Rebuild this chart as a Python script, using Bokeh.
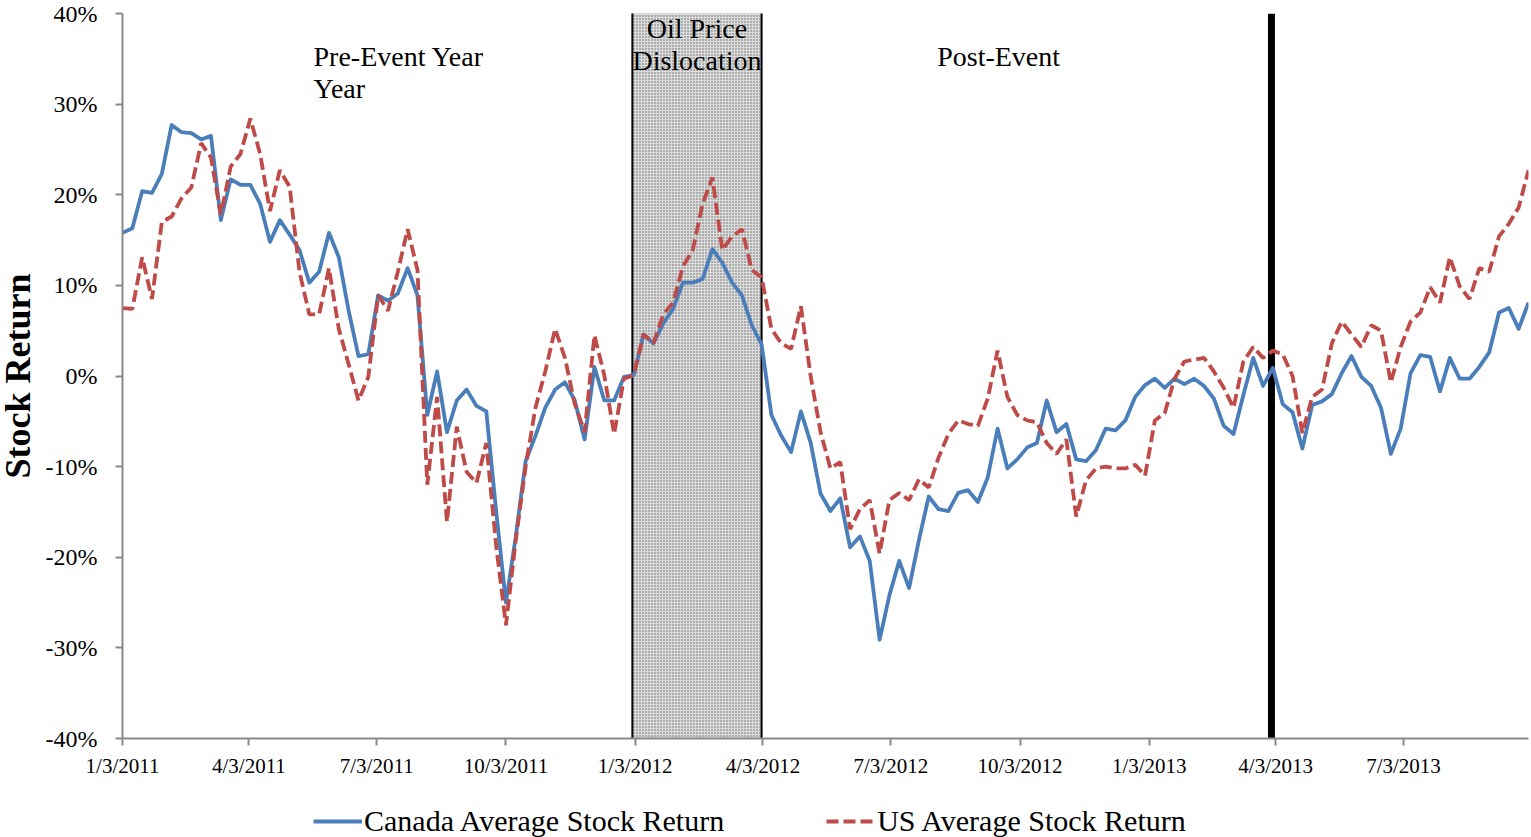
import pandas as pd
from bokeh.plotting import figure
from bokeh.layouts import column
from bokeh.models import (FixedTicker, PrintfTickFormatter, Legend, LegendItem,
                          Label, Span, Range1d)
from bokeh.embed import file_html
from bokeh.resources import INLINE

# ---------------- data ----------------
weeks = pd.date_range("2011-01-03", periods=144, freq="7D")

canada = [
    15.8, 16.3, 20.4, 20.2, 22.3, 27.7, 26.9, 26.8, 26.1, 26.5,
    17.2, 21.7, 21.1, 21.1, 19.0, 14.8, 17.2, 15.6, 13.9, 10.3,
    11.5, 15.8, 13.1, 7.2, 2.2, 2.4, 8.9, 8.3, 9.1, 11.9,
    8.9, -4.3, 0.5, -6.2, -2.7, -1.5, -3.3, -3.9, -14.9, -25.0,
    -17.7, -9.4, -6.6, -3.5, -1.5, -0.7, -2.7, -7.0, 1.0, -2.7,
    -2.7, -0.1, 0.1, 4.6, 3.6, 5.8, 7.4, 10.3, 10.3, 10.7,
    14.0, 12.5, 10.3, 8.9, 5.6, 3.5, -4.3, -6.6, -8.4, -3.9,
    -7.4, -13.0, -14.9, -13.5, -18.9, -17.7, -20.4, -29.1, -24.2, -20.4,
    -23.4, -18.1, -13.3, -14.7, -14.9, -12.9, -12.6, -13.9, -11.2, -5.8,
    -10.2, -9.2, -7.9, -7.4, -2.7, -6.2, -5.3, -9.2, -9.4, -8.2,
    -5.8, -6.0, -4.9, -2.3, -1.0, -0.3, -1.3, -0.3, -0.9, -0.3,
    -1.1, -2.5, -5.5, -6.4, -2.1, 2.0, -1.1, 0.9, -3.1, -4.0,
    -8.0, -3.2, -2.8, -2.0, 0.3, 2.2, -0.1, -1.1, -3.5, -8.6,
    -5.8, 0.3, 2.3, 2.1, -1.7, 2.0, -0.3, -0.3, 1.0, 2.6,
    7.0, 7.5, 5.2, 8.1,
]

us = [
    7.5, 7.4, 13.1, 8.5, 17.0, 17.6, 19.6, 20.8, 25.7, 24.1,
    17.8, 23.1, 24.5, 28.4, 24.5, 18.2, 22.7, 20.9, 11.5, 6.8,
    6.8, 11.9, 5.2, 1.3, -2.7, -0.1, 8.9, 7.2, 11.5, 16.2,
    11.7, -12.0, -2.3, -16.1, -5.6, -10.6, -11.8, -7.4, -18.7, -27.5,
    -18.1, -10.0, -3.5, 0.5, 5.2, 2.0, -3.1, -6.2, 4.5, 0.1,
    -6.4, -0.3, 0.1, 4.6, 3.6, 6.8, 8.1, 12.1, 13.9, 19.0,
    21.9, 13.9, 15.4, 16.2, 11.7, 10.9, 5.2, 3.6, 3.0, 7.7,
    -0.1, -6.2, -10.2, -9.5, -16.9, -14.7, -13.7, -19.6, -13.7, -12.9,
    -13.7, -11.4, -12.3, -9.0, -6.4, -4.9, -5.3, -5.5, -2.5, 2.8,
    -2.3, -4.3, -4.9, -5.1, -7.4, -8.6, -7.0, -15.5, -11.5, -10.2,
    -10.0, -10.2, -10.2, -9.8, -11.0, -4.9, -4.1, -0.3, 1.6, 1.8,
    2.0, 0.5, -1.3, -3.5, 1.6, 3.2, 2.0, 2.8, 2.4, 0.0,
    -6.3, -2.3, -1.5, 3.6, 6.0, 4.6, 3.2, 5.6, 5.0, -0.7,
    3.2, 6.0, 7.0, 9.8, 8.1, 13.1, 9.9, 8.5, 11.9, 11.5,
    15.4, 16.8, 18.6, 22.7,
]

tick_dates = ["2011-01-03", "2011-04-03", "2011-07-03", "2011-10-03",
              "2012-01-03", "2012-04-03", "2012-07-03", "2012-10-03",
              "2013-01-03", "2013-04-03", "2013-07-03"]
tick_labels = ["1/3/2011", "4/3/2011", "7/3/2011", "10/3/2011",
               "1/3/2012", "4/3/2012", "7/3/2012", "10/3/2012",
               "1/3/2013", "4/3/2013", "7/3/2013"]
y_ticks = [-40, -30, -20, -10, 0, 10, 20, 30, 40]

series_names = ["Canada Average Stock Return", "US Average Stock Return"]

shade_start, shade_end = "2012-01-01", "2012-04-02"
event_date = "2013-03-31"


def ms(d):
    return pd.Timestamp(d).value // 10**6


FONT = "Liberation Serif"
BLUE = "#4A7EBB"
RED = "#BE4B48"
AXIS = "#898989"
US_DASH = "12 5"
LW = 3.8

p = figure(frame_width=1406, frame_height=725, x_axis_type="datetime",
           output_backend="svg", toolbar_location=None,
           x_range=Range1d(ms("2011-01-03"), ms("2013-09-30")),
           y_range=Range1d(-40, 40),
           min_border_left=0, min_border_right=1,
           min_border_top=13, min_border_bottom=0)
p.margin = (0, 0, 0, -6)
p.outline_line_color = None
p.grid.visible = False
p.background_fill_color = "white"
p.border_fill_color = "white"

# shaded event window
p.quad(left=[ms(shade_start)], right=[ms(shade_end)], bottom=[-41], top=[41],
       fill_color="#ABABAB", hatch_pattern="+", hatch_color="#DCDCDC",
       hatch_scale=3.0, hatch_weight=1.0,
       line_color="black", line_width=2)

p.add_layout(Span(location=ms(event_date), dimension="height",
                  line_color="black", line_width=7, level="underlay"))

p.line(weeks, canada, line_color=BLUE, line_width=LW, line_join="round")
p.line(weeks, us, line_color=RED, line_width=LW, line_dash=US_DASH)

# axes
for ax in (p.xaxis[0], p.yaxis[0]):
    ax.axis_line_color = AXIS
    ax.axis_line_width = 2
    ax.major_tick_line_color = AXIS
    ax.major_tick_line_width = 2
    ax.major_tick_in = 0
    ax.major_tick_out = 7
    ax.minor_tick_line_color = None
    ax.major_label_text_font = FONT
    ax.major_label_text_color = "black"

p.xaxis.ticker = FixedTicker(ticks=[ms(d) for d in tick_dates])
p.xaxis.major_label_overrides = {ms(d): lab for d, lab in zip(tick_dates, tick_labels)}
p.xaxis.major_label_text_font_size = "21px"
p.xaxis.major_label_standoff = 8

p.yaxis.ticker = FixedTicker(ticks=y_ticks)
p.yaxis.formatter = PrintfTickFormatter(format="%d%%")
p.yaxis.major_label_text_font_size = "24px"
p.yaxis.major_label_standoff = 18
p.yaxis.axis_label = "Stock Return"
p.yaxis.axis_label_text_font = FONT
p.yaxis.axis_label_text_font_style = "bold"
p.yaxis.axis_label_text_font_size = "36px"
p.yaxis.axis_label_text_color = "black"
p.yaxis.axis_label_standoff = 5

# annotations
def note(x, y, text, align):
    p.add_layout(Label(x=ms(x), y=y, text=text, text_align=align,
                       text_baseline="middle", text_font=FONT,
                       text_font_size="28px", text_color="black"))

note("2011-05-19", 35.3, "Pre-Event Year", "left")
note("2011-05-19", 31.7, "Year", "left")
note("2012-02-16", 38.4, "Oil Price", "center")
note("2012-02-16", 34.8, "Dislocation", "center")
note("2012-08-05", 35.3, "Post-Event", "left")

# ---------------- legend strip (own small figure, below the chart) ----------------
lg = figure(width=1535, height=58, output_backend="svg", toolbar_location=None,
            x_axis_location=None, y_axis_location=None,
            x_range=Range1d(0, 1), y_range=Range1d(0, 1),
            min_border=0)
lg.outline_line_color = None
lg.grid.visible = False
lg.border_fill_color = "white"
lg.background_fill_color = "white"
# key renderers: their points lie outside the strip's ranges, only the key shows
k1 = lg.line([5, 6], [5, 6], line_color=BLUE, line_width=LW)
k2 = lg.line([5, 6], [5, 6], line_color=RED, line_width=LW, line_dash=US_DASH)

legend = Legend(items=[LegendItem(label=series_names[0], renderers=[k1]),
                       LegendItem(label=series_names[1], renderers=[k2])],
                orientation="horizontal", location=(185, 0),
                glyph_width=49, glyph_height=20, label_standoff=2, spacing=102,
                padding=0, margin=0, border_line_color=None,
                background_fill_alpha=0, label_text_font=FONT,
                label_text_font_size="30px", label_text_color="black")
lg.add_layout(legend)

layout = column(p, lg, spacing=0)
open("out.html", "w").write(file_html(layout, INLINE))
